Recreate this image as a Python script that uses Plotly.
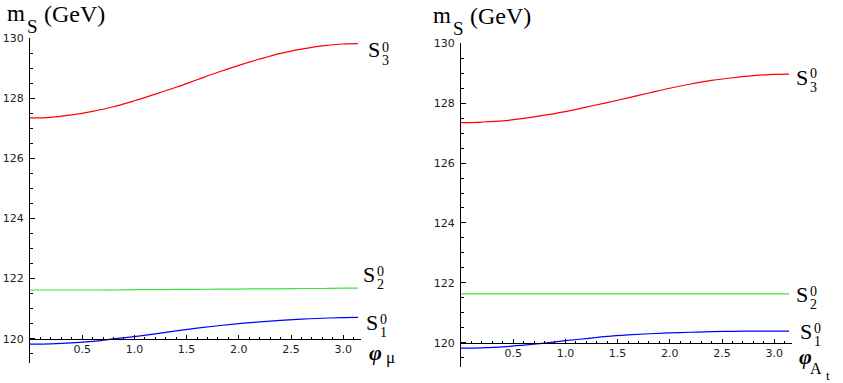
import plotly.graph_objects as go

phi = [0.0, 0.2, 0.4, 0.6, 0.8, 1.0, 1.2, 1.4, 1.6, 1.8, 2.0, 2.2, 2.4, 2.6, 2.8, 3.0, 3.1416]

# left panel: phase of mu
mu_S3 = [127.35, 127.37, 127.45, 127.57, 127.72, 127.92, 128.14, 128.37, 128.62, 128.87, 129.10, 129.31, 129.50, 129.64, 129.75, 129.81, 129.82]
mu_S2 = [121.62, 121.62, 121.62, 121.62, 121.62, 121.63, 121.63, 121.64, 121.64, 121.65, 121.65, 121.66, 121.66, 121.67, 121.67, 121.68, 121.68]
mu_S1 = [119.82, 119.83, 119.86, 119.91, 119.99, 120.07, 120.16, 120.26, 120.35, 120.43, 120.50, 120.56, 120.61, 120.65, 120.68, 120.70, 120.71]

# right panel: phase of A_t
at_S3 = [127.35, 127.37, 127.41, 127.49, 127.60, 127.72, 127.87, 128.02, 128.18, 128.34, 128.50, 128.64, 128.76, 128.85, 128.92, 128.96, 128.97]
at_S2 = [121.63] * 17
at_S1 = [119.82, 119.83, 119.86, 119.92, 119.99, 120.07, 120.14, 120.21, 120.26, 120.30, 120.33, 120.35, 120.37, 120.38, 120.39, 120.39, 120.39]

x_ticks = [0.5, 1.0, 1.5, 2.0, 2.5, 3.0]
x_ticktext = ["0.5", "1.0", "1.5", "2.0", "2.5", "3.0"]
y_ticks = [120, 122, 124, 126, 128, 130]

RED, GREEN, BLUE = "#ff0000", "#40e040", "#0000ff"
W, H = 843, 383
XR = [0, 3.17]
YR = [119.2, 130]
YCROSS = 120

fig = go.Figure()
for xa, ya, s3, s2, s1 in [("x", "y", mu_S3, mu_S2, mu_S1), ("x2", "y2", at_S3, at_S2, at_S1)]:
    for ys, c in [(s3, RED), (s2, GREEN), (s1, BLUE)]:
        fig.add_trace(go.Scatter(x=phi, y=ys, mode="lines", xaxis=xa, yaxis=ya,
                                 line=dict(color=c, width=1.2, shape="spline"),
                                 showlegend=False, hoverinfo="skip"))

tickfont = dict(family="DejaVu Sans", size=11, color="#222")


def xaxis(dom, ydom):
    pos = ydom[0] + (YCROSS - YR[0]) / (YR[1] - YR[0]) * (ydom[1] - ydom[0])
    return dict(domain=dom, range=XR, anchor="free", position=pos, automargin=False,
                showline=True, linecolor="black", linewidth=1, showgrid=False, zeroline=False,
                tickvals=x_ticks, ticktext=x_ticktext, ticks="inside", ticklen=4, tickcolor="black",
                tickfont=tickfont,
                minor=dict(dtick=0.1, tick0=0, ticks="inside", ticklen=2, tickcolor="black", showgrid=False))


def yaxis(dom, anchor_x):
    return dict(domain=dom, range=YR, anchor=anchor_x, automargin=False,
                showline=True, linecolor="black", linewidth=1, showgrid=False, zeroline=False,
                tickvals=y_ticks, ticks="inside", ticklen=5, tickcolor="black", tickfont=tickfont,
                ticklabelstandoff=3,
                minor=dict(dtick=0.5, tick0=0, ticks="inside", ticklen=3, tickcolor="black", showgrid=False))


yd1 = [1 - 362.7 / H, 1 - 38.3 / H]
yd2 = [1 - 366.7 / H, 1 - 43.3 / H]
xd1 = [30 / W, 361 / W]
xd2 = [461 / W, 792 / W]

fig.update_layout(
    template="none",
    width=W, height=H, margin=dict(l=0, r=0, t=0, b=0, autoexpand=False),
    paper_bgcolor="white", plot_bgcolor="rgba(0,0,0,0)",
    xaxis=xaxis(xd1, yd1), yaxis=yaxis(yd1, "x"),
    xaxis2=xaxis(xd2, yd2), yaxis2=yaxis(yd2, "x2"),
)

SERIF = "Liberation Serif"


def txt(x, y, s, size, xanchor="center", yanchor="middle"):
    fig.add_annotation(x=x / W, y=1 - y / H, xref="paper", yref="paper", text=s, showarrow=False,
                       xanchor=xanchor, yanchor=yanchor, borderpad=0,
                       font=dict(family=SERIF, size=size, color="black"))


# axis titles  m_S (GeV)
for dx, dy in [(0, 0), (426, 2)]:
    txt(6 + dx, 0 + dy, "m", 23, "left", "top")
    txt(26 + dx, 26 + dy, "S", 19, "left")
    txt(43 + dx, 0 + dy, "(GeV)", 24, "left", "top")


def slabel(sx, sy, sup, sub):
    txt(sx, sy, "S", 22)
    txt(sx + 7, sy - 3, sup, 14, "left")
    txt(sx + 7, sy + 10, sub, 14, "left")


# left panel labels
slabel(374, 50, "0", "3")
slabel(369, 274, "0", "2")
slabel(372, 322, "0", "1")
txt(375, 352, "<b><i>φ</i></b>", 22)
txt(385, 357, "μ", 17, "left")

# right panel labels
slabel(802, 77, "0", "3")
slabel(802, 294, "0", "2")
slabel(806, 331, "0", "1")
txt(805, 356, "<b><i>φ</i></b>", 22)
txt(816, 368, "A", 16)
txt(828, 375, "t", 13)

fig.write_html("out.html", config={"displayModeBar": False},
               post_script="document.body.style.margin='0px';document.body.style.overflow='hidden';")
